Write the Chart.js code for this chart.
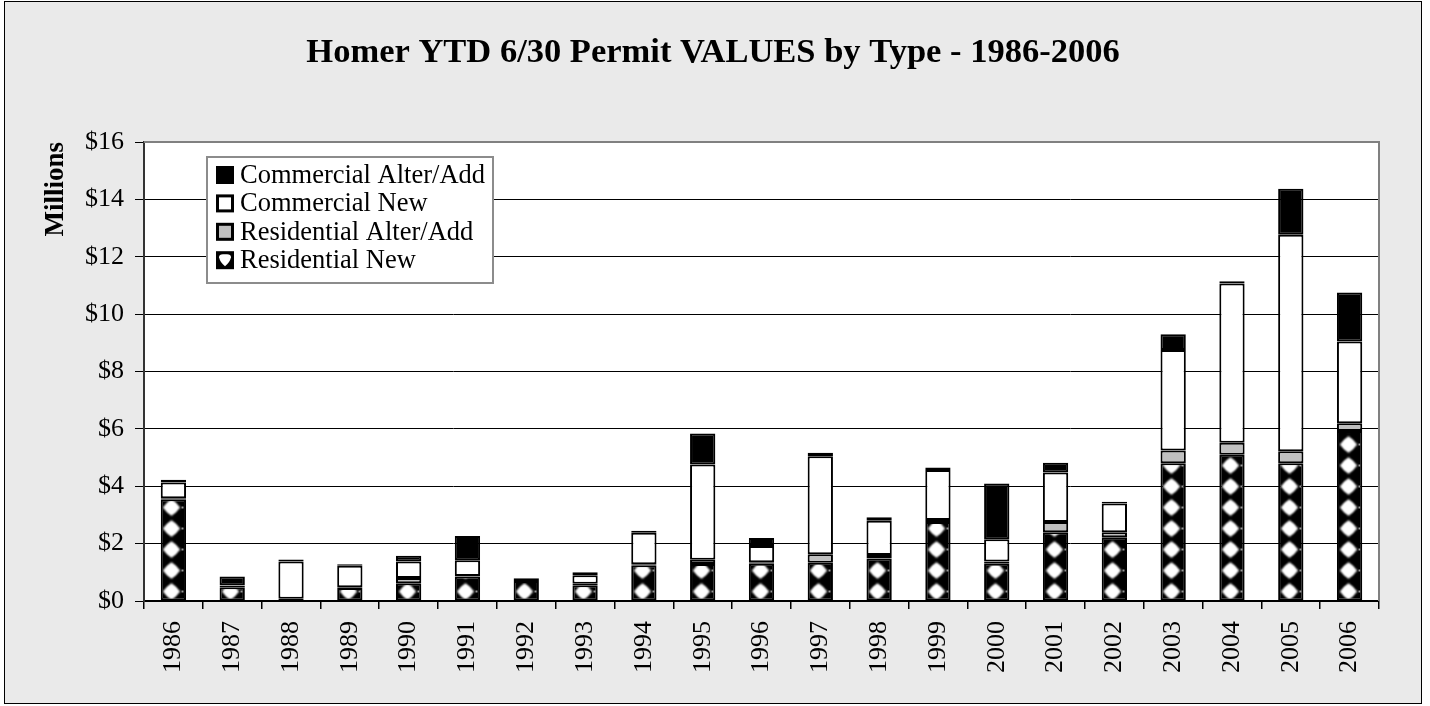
<!DOCTYPE html>
<html>
<head>
<meta charset="utf-8">
<title>Homer YTD 6/30 Permit VALUES by Type - 1986-2006</title>
<script src="https://cdn.jsdelivr.net/npm/chart.js@4.4.0/dist/chart.umd.min.js"></script>
<style>
  body { margin: 0; background: #fff; }
  #frame {
    position: absolute; left: 4px; top: 1px;
    width: 1416px; height: 701px;
    border: 1px solid #000; background: #eaeaea;
  }
</style>
</head>
<body>
<div id="frame"><canvas id="permitChart"></canvas></div>
<script>
// Permit values, $ millions, year to date through June 30
const years = ['1986', '1987', '1988', '1989', '1990', '1991', '1992', '1993', '1994', '1995', '1996',
               '1997', '1998', '1999', '2000', '2001', '2002', '2003', '2004', '2005', '2006'];
const residentialNew   = [3.55, 0.48, 0.08, 0.45, 0.62, 0.85, 0.70, 0.55, 1.25, 1.29, 1.30,
                          1.33, 1.48, 2.75, 1.30, 2.40, 2.22, 4.80, 5.10, 4.80, 5.93];
const residentialAlter = [0.03, 0.05, 0.00, 0.03, 0.18, 0.02, 0.00, 0.05, 0.03, 0.15, 0.05,
                          0.30, 0.12, 0.07, 0.08, 0.35, 0.18, 0.45, 0.42, 0.42, 0.27];
const commercialNew    = [0.55, 0.02, 1.30, 0.75, 0.58, 0.55, 0.03, 0.30, 1.10, 3.32, 0.57,
                          3.42, 1.20, 1.75, 0.77, 1.73, 1.00, 3.50, 5.55, 7.55, 2.85];
const commercialAlter  = [0.10, 0.30, 0.07, 0.05, 0.20, 0.85, 0.06, 0.10, 0.07, 1.08, 0.28,
                          0.12, 0.12, 0.08, 1.95, 0.34, 0.06, 0.55, 0.08, 1.60, 1.70];
const yTicks = [0, 2, 4, 6, 8, 10, 12, 14, 16];

const serif = "'Liberation Serif', 'Times New Roman', serif";

// black tile with a soft white diamond, used for the Residential New fill
function makeDiamondTile() {
  const c = document.createElement('canvas');
  c.width = 40; c.height = 21;
  const g = c.getContext('2d');
  g.fillStyle = '#000';
  g.fillRect(0, 0, c.width, c.height);
  const cx = 18.5, cy = 10.5;
  g.filter = 'blur(0.9px)';
  g.fillStyle = '#fff';
  g.beginPath();
  g.moveTo(cx, cy - 8.5);
  g.quadraticCurveTo(cx + 3.5, cy - 3.5, cx + 9, cy);
  g.quadraticCurveTo(cx + 3.5, cy + 3.5, cx, cy + 8.5);
  g.quadraticCurveTo(cx - 3.5, cy + 3.5, cx - 9, cy);
  g.quadraticCurveTo(cx - 3.5, cy - 3.5, cx, cy - 8.5);
  g.fill();
  g.beginPath();
  g.arc(cx, cy, 6.2, 0, Math.PI * 2);
  g.fill();
  g.filter = 'none';
  g.fillStyle = '#999';
  g.fillRect(cx + 10, cy - 1, 2, 2);
  return c;
}
const diamondTile = makeDiamondTile();

function residentialFill(ctx) {
  const chart = ctx.chart;
  if (ctx.type !== 'data' || !chart.scales || !chart.scales.x) return '#000';
  const x = chart.scales.x.getPixelForValue(ctx.dataIndex);
  const y0 = chart.scales.y.getPixelForValue(0);
  const p = chart.ctx.createPattern(diamondTile, 'repeat');
  p.setTransform(new DOMMatrix([1, 0, 0, 1, Math.round(x - 20), Math.round(y0 - 20)]));
  return p;
}

// white plot area, grey frame on top and right
const plotArea = {
  id: 'plotArea',
  beforeDraw(chart) {
    const { ctx, chartArea: a } = chart;
    ctx.save();
    ctx.fillStyle = '#fff';
    ctx.fillRect(a.left, a.top, a.right - a.left, a.bottom - a.top);
    ctx.restore();
  },
  beforeDatasetsDraw(chart) {
    const { ctx, chartArea: a } = chart;
    ctx.save();
    ctx.strokeStyle = '#808080';
    ctx.lineWidth = 2;
    ctx.beginPath();
    ctx.moveTo(a.left, a.top);
    ctx.lineTo(a.right, a.top);
    ctx.lineTo(a.right, a.bottom);
    ctx.stroke();
    ctx.restore();
  }
};

// boxed legend inside the plot, top-left
const legendBox = {
  id: 'legendBox',
  afterDatasetsDraw(chart) {
    const { ctx, chartArea: a } = chart;
    const left = a.left + 63, top = a.top + 15, w = 286, h = 126;
    ctx.save();
    ctx.fillStyle = '#fff';
    ctx.fillRect(left, top, w, h);
    ctx.strokeStyle = '#8c8c8c';
    ctx.lineWidth = 2;
    ctx.strokeRect(left, top, w, h);

    const items = chart.data.datasets.slice().reverse();
    ctx.font = '26.5px ' + serif;
    ctx.textBaseline = 'middle';
    items.forEach((ds, i) => {
      const cy = top + 18 + i * 28.4;
      const bx = left + 9, by = cy - 9, s = 18;
      ctx.fillStyle = '#000';
      ctx.fillRect(bx, by, s, s);
      if (ds.key === 'resNew') {
        ctx.fillStyle = '#fff';
        ctx.beginPath();
        ctx.moveTo(bx + 3, by + 6);
        ctx.quadraticCurveTo(bx + 3, by + 3, bx + 7, by + 3);
        ctx.lineTo(bx + 11, by + 3);
        ctx.quadraticCurveTo(bx + 15, by + 3, bx + 15, by + 6);
        ctx.quadraticCurveTo(bx + 14, by + 11, bx + 9, by + 15);
        ctx.quadraticCurveTo(bx + 4, by + 11, bx + 3, by + 6);
        ctx.fill();
      } else if (ds.key !== 'comAlter') {
        ctx.fillStyle = ds.backgroundColor;
        ctx.fillRect(bx + 3, by + 3, s - 6, s - 6);
      }
      ctx.fillStyle = '#000';
      ctx.fillText(ds.label, left + 33, cy + 1);
    });
    ctx.restore();
  }
};

const barStyle = {
  borderColor: '#000',
  borderWidth: 2,
  borderSkipped: false,
  barPercentage: 0.43,
  categoryPercentage: 1
};

new Chart(document.getElementById('permitChart'), {
  type: 'bar',
  data: {
    labels: years,
    datasets: [
      { key: 'resNew', label: 'Residential New', data: residentialNew, backgroundColor: residentialFill, ...barStyle },
      { key: 'resAlter', label: 'Residential Alter/Add', data: residentialAlter, backgroundColor: '#c0c0c0', ...barStyle },
      { key: 'comNew', label: 'Commercial New', data: commercialNew, backgroundColor: '#fff', ...barStyle },
      { key: 'comAlter', label: 'Commercial Alter/Add', data: commercialAlter, backgroundColor: '#000', ...barStyle }
    ]
  },
  options: {
    responsive: true,
    maintainAspectRatio: false,
    animation: false,
    events: [],
    layout: { padding: 0 },
    plugins: {
      legend: { display: false },
      tooltip: { enabled: false },
      title: {
        display: true,
        text: 'Homer YTD 6/30 Permit VALUES by Type - 1986-2006',
        color: '#000',
        font: { family: serif, size: 34.5, weight: 'bold' },
        padding: { top: 30, bottom: 68.6 }
      }
    },
    scales: {
      x: {
        stacked: true,
        ticks: {
          color: '#000',
          font: { family: serif, size: 26 },
          minRotation: 90,
          maxRotation: 90,
          autoSkip: false,
          padding: 12
        },
        grid: { drawOnChartArea: false, offset: true, tickLength: 8, color: '#000', lineWidth: 1.5 },
        border: { color: '#000', width: 2 },
        afterFit(scale) { scale.height = 102; }
      },
      y: {
        stacked: true,
        min: 0,
        max: 16,
        afterBuildTicks(scale) { scale.ticks = yTicks.map(v => ({ value: v })); },
        ticks: {
          color: '#000',
          font: { family: serif, size: 26 },
          padding: 11,
          callback: v => '$' + v
        },
        grid: { color: '#000', lineWidth: 1, tickLength: 9 },
        border: { color: '#333', width: 2 },
        title: {
          display: true,
          text: 'Millions',
          align: 'end',
          color: '#000',
          font: { family: serif, size: 27, weight: 'bold' },
          padding: { top: 35, bottom: 0 }
        },
        afterFit(scale) { scale.width = 139; }
      },
      // empty margin on the right of the plot
      yMargin: {
        position: 'right',
        min: 0,
        max: 16,
        grid: { display: false },
        ticks: { display: false },
        border: { display: false },
        afterFit(scale) { scale.width = 42; }
      }
    }
  },
  plugins: [plotArea, legendBox]
});
</script>
</body>
</html>
